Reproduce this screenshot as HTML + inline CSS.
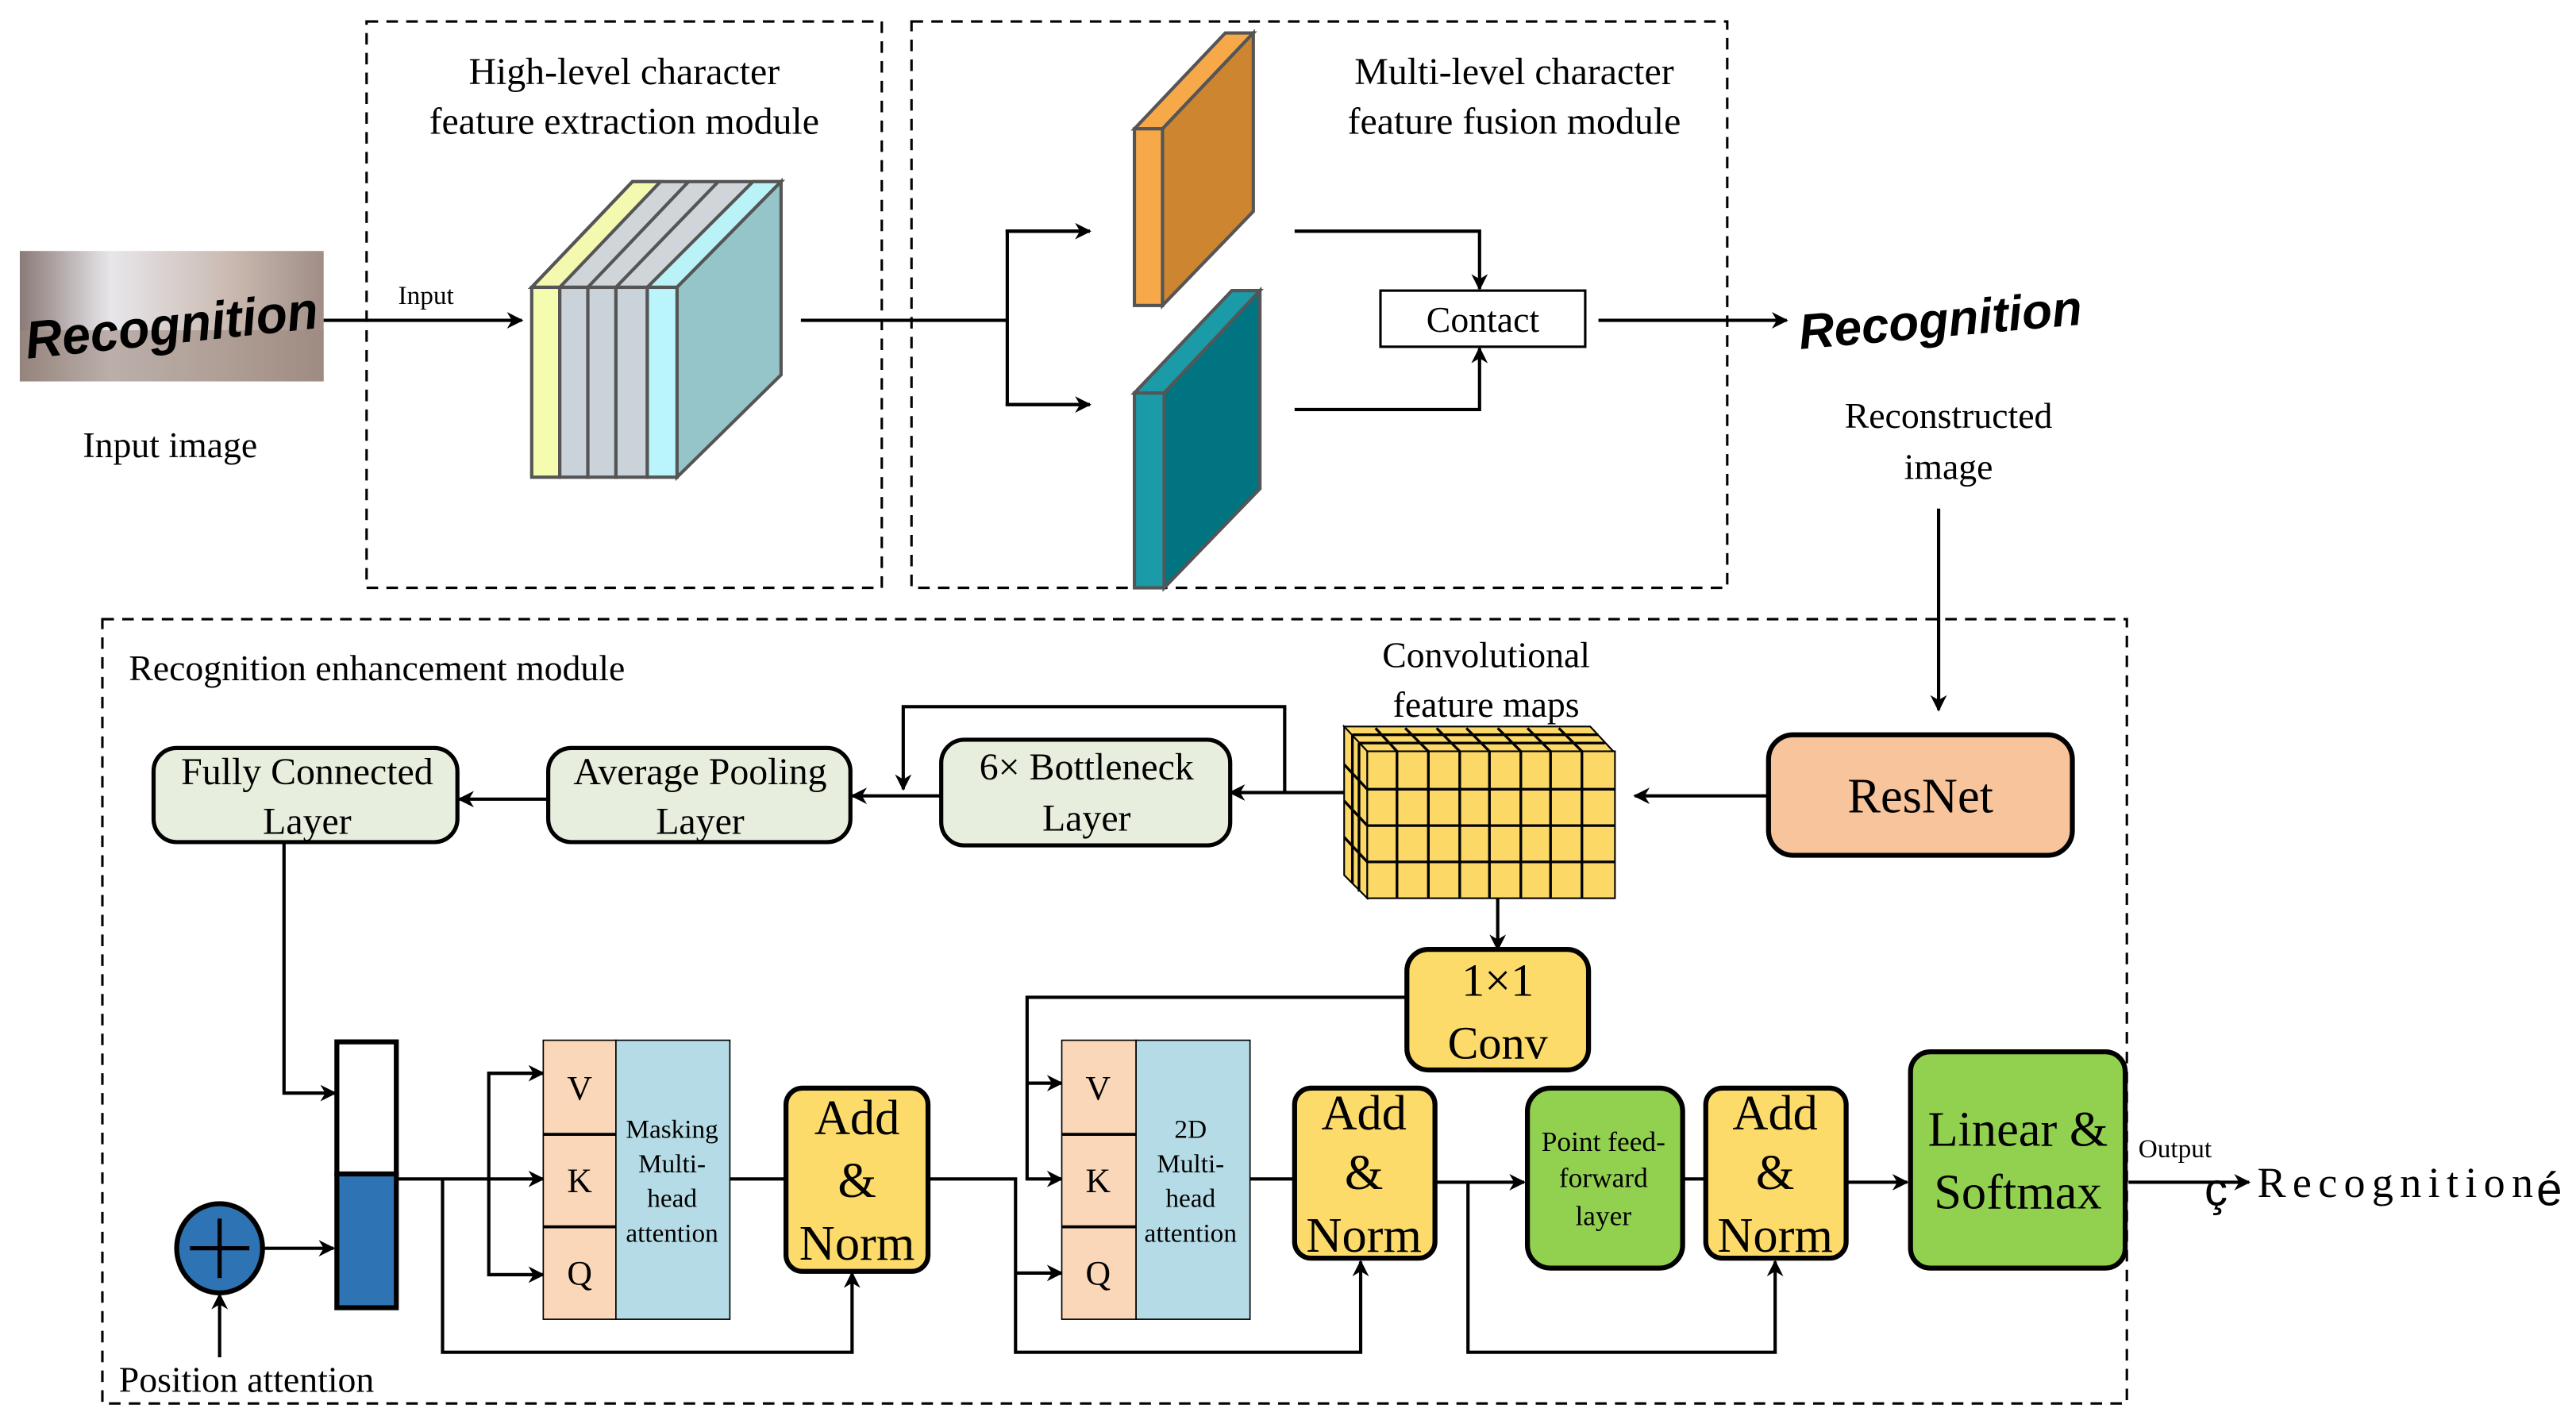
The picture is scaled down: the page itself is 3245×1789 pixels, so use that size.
<!DOCTYPE html>
<html><head><meta charset="utf-8"><style>
html,body{margin:0;padding:0;background:#fff;}
svg{display:block;}
text{font-family:"Liberation Serif",serif;fill:#000;}
</style></head><body>
<svg width="3245" height="1789" viewBox="0 0 1560 860" preserveAspectRatio="none" xmlns="http://www.w3.org/2000/svg">
<defs>
<marker id="a" markerWidth="10" markerHeight="10" refX="9" refY="5" orient="auto" markerUnits="userSpaceOnUse"><path d="M0,0 L10,5 L0,10 L3,5 Z" fill="#000"/></marker>
<linearGradient id="img" x1="0" y1="0" x2="1" y2="0"><stop offset="0" stop-color="#8a7a78"/><stop offset="0.3" stop-color="#e8e6ea"/><stop offset="0.7" stop-color="#c9b9b0"/><stop offset="1" stop-color="#a08e86"/></linearGradient>
</defs>
<g fill="none" stroke="#000" stroke-width="1.5" stroke-dasharray="7,5">
<rect x="222" y="13" width="312" height="343"/>
<rect x="552" y="13" width="494" height="343"/>
<rect x="62" y="375" width="1226" height="475"/>
</g>
<rect x="12" y="152" width="184" height="79" fill="url(#img)"/>
<rect x="12" y="200" width="184" height="31" fill="#9c8a80" opacity="0.6"/>
<text x="104" y="208" font-weight="bold" font-style="italic" font-size="32" text-anchor="middle" transform="rotate(-6 104 198)" style="font-family:'Liberation Sans',sans-serif" textLength="178" lengthAdjust="spacingAndGlyphs">Recognition</text>
<text x="103" y="277" font-size="22" text-anchor="middle">Input image</text>
<text x="258" y="184" font-size="16" text-anchor="middle">Input</text>
<line x1="196" y1="194" x2="316" y2="194" stroke="#000" stroke-width="2" marker-end="url(#a)"/>
<text x="378" y="51" font-size="23" text-anchor="middle">High-level character</text>
<text x="378" y="81" font-size="23" text-anchor="middle">feature extraction module</text>
<g stroke="#555" stroke-width="2">
<polygon points="322,174 383,110 473,110 410,174" fill="#cfd5d9"/>
<polygon points="322,174 339,174 400,110 383,110" fill="#f5f9b0"/>
<polygon points="392,174 410,174 473,110 456,110" fill="#b9f3f8"/>
<polygon points="410,174 473,110 473,227 410,289" fill="#95c5c8"/>
<rect x="322" y="174" width="17" height="115" fill="#f5fcb0"/>
<rect x="339" y="174" width="17" height="115" fill="#cbd3da"/>
<rect x="356" y="174" width="17" height="115" fill="#cbd3da"/>
<rect x="373" y="174" width="19" height="115" fill="#cbd3da"/>
<rect x="392" y="174" width="18" height="115" fill="#b9f5fb"/>
<line x1="356" y1="174" x2="417" y2="110"/><line x1="373" y1="174" x2="435" y2="110"/>
</g>
<g stroke="#000" stroke-width="2" fill="none">
<line x1="485" y1="194" x2="610" y2="194"/>
<polyline points="660,140 610,140 610,245 660,245"/>
<line x1="609" y1="140" x2="660" y2="140" marker-end="url(#a)"/>
<line x1="609" y1="245" x2="660" y2="245" marker-end="url(#a)"/>
<polyline points="784,140 896,140 896,175" marker-end="url(#a)"/>
<polyline points="784,248 896,248 896,211" marker-end="url(#a)"/>
<line x1="968" y1="194" x2="1082" y2="194" marker-end="url(#a)"/>
<line x1="1174" y1="308" x2="1174" y2="430" marker-end="url(#a)"/>
</g>
<text x="917" y="51" font-size="23" text-anchor="middle">Multi-level character</text>
<text x="917" y="81" font-size="23" text-anchor="middle">feature fusion module</text>
<g stroke="#555" stroke-width="2">
<polygon points="687,78 742,20 759,20 704,78" fill="#f7a94a"/>
<polygon points="704,78 759,20 759,128 704,185" fill="#cd8530"/>
<rect x="687" y="78" width="17" height="107" fill="#f7a94a"/>
<polygon points="687,238 746,176 763,176 705,238" fill="#1b9aa8"/>
<polygon points="705,238 763,176 763,296 705,356" fill="#007481"/>
<rect x="687" y="238" width="18" height="118" fill="#1b9aa8"/>
</g>
<rect x="836" y="176" width="124" height="34" fill="#fff" stroke="#000" stroke-width="1.5"/>
<text x="898" y="201" font-size="22" text-anchor="middle">Contact</text>
<text x="1175" y="204" font-weight="bold" font-style="italic" font-size="30" text-anchor="middle" transform="rotate(-5 1175 194)" style="font-family:'Liberation Sans',sans-serif" textLength="172" lengthAdjust="spacingAndGlyphs">Recognition</text>
<text x="1180" y="259" font-size="22" text-anchor="middle">Reconstructed</text>
<text x="1180" y="290" font-size="22" text-anchor="middle">image</text>
<text x="78" y="412" font-size="22">Recognition enhancement module</text>
<rect x="1071" y="445" width="184" height="73" rx="15" fill="#f8c49c" stroke="#000" stroke-width="3"/>
<text x="1163" y="492" font-size="30" text-anchor="middle">ResNet</text>
<text x="900" y="404" font-size="22" text-anchor="middle">Convolutional</text>
<text x="900" y="434" font-size="22" text-anchor="middle">feature maps</text>
<!-- cube -->
<g stroke="#000" stroke-width="1">
<polygon points="814,440 963,440 977,455 828,455" fill="#fcd867"/>
<polygon points="814,440 828,455 828,544 814,530" fill="#fcd867"/>
<rect x="828" y="455" width="150" height="89" fill="#fcd867"/>
</g>
<g stroke="#000" stroke-width="1.6" fill="none">
<line x1="828" y1="478" x2="978" y2="478"/><line x1="828" y1="500" x2="978" y2="500"/><line x1="828" y1="522" x2="978" y2="522"/>
<line x1="865" y1="455" x2="865" y2="544"/><line x1="902" y1="455" x2="902" y2="544"/><line x1="939" y1="455" x2="939" y2="544"/>
<line x1="884" y1="455" x2="884" y2="544"/><line x1="846" y1="455" x2="846" y2="544"/><line x1="921" y1="455" x2="921" y2="544"/><line x1="958" y1="455" x2="958" y2="544"/>
<line x1="819" y1="445" x2="968" y2="445"/><line x1="823" y1="450" x2="972" y2="450"/>
<line x1="819" y1="445" x2="819" y2="535"/><line x1="823" y1="450" x2="823" y2="540"/>
<line x1="846" y1="455" x2="833" y2="441"/><line x1="865" y1="455" x2="851" y2="441"/><line x1="884" y1="455" x2="870" y2="441"/><line x1="902" y1="455" x2="888" y2="441"/><line x1="921" y1="455" x2="907" y2="441"/><line x1="939" y1="455" x2="925" y2="441"/><line x1="958" y1="455" x2="944" y2="441"/>
<line x1="828" y1="478" x2="814" y2="463"/><line x1="828" y1="500" x2="814" y2="485"/><line x1="828" y1="522" x2="814" y2="507"/>
</g>
<g stroke="#000" stroke-width="2" fill="none">
<line x1="1071" y1="482" x2="990" y2="482" marker-end="url(#a)"/>
<line x1="814" y1="480" x2="745" y2="480" marker-end="url(#a)"/>
<polyline points="778,480 778,428 547,428 547,478" marker-end="url(#a)"/>
<line x1="570" y1="482" x2="516" y2="482" marker-end="url(#a)"/>
<line x1="332" y1="484" x2="278" y2="484" marker-end="url(#a)"/>
<polyline points="172,510 172,662 203,662" marker-end="url(#a)"/>
<line x1="907" y1="544" x2="907" y2="575" marker-end="url(#a)"/>
</g>
<g stroke="#000" stroke-width="2.5">
<rect x="570" y="448" width="175" height="64" rx="14" fill="#e8eedd"/>
<rect x="332" y="453" width="183" height="57" rx="14" fill="#e8eedd"/>
<rect x="93" y="453" width="184" height="57" rx="14" fill="#e8eedd"/>
</g>
<g font-size="23" text-anchor="middle">
<text x="658" y="472">6× Bottleneck</text><text x="658" y="503">Layer</text>
<text x="424" y="475">Average Pooling</text><text x="424" y="505">Layer</text>
<text x="186" y="475">Fully Connected</text><text x="186" y="505">Layer</text>
</g>
<rect x="852" y="575" width="110" height="73" rx="13" fill="#fddb6a" stroke="#000" stroke-width="3"/>
<text x="907" y="603" font-size="28" text-anchor="middle">1×1</text>
<text x="907" y="641" font-size="28" text-anchor="middle">Conv</text>
<rect x="204" y="631" width="36" height="80" fill="#fff" stroke="#000" stroke-width="3"/>
<rect x="204" y="711" width="36" height="81" fill="#2e74b5" stroke="#000" stroke-width="3"/>
<ellipse cx="133" cy="756" rx="26" ry="27" fill="#2e74b5" stroke="#000" stroke-width="3"/>
<g stroke="#000" stroke-width="2.5"><line x1="115" y1="756" x2="151" y2="756"/><line x1="133" y1="738" x2="133" y2="774"/></g>
<g stroke="#000" stroke-width="2" fill="none">
<line x1="159" y1="756" x2="202" y2="756" marker-end="url(#a)"/>
<line x1="133" y1="822" x2="133" y2="784" marker-end="url(#a)"/>
<line x1="240" y1="714" x2="329" y2="714" marker-end="url(#a)"/>
<polyline points="329,650 296,650 296,772 329,772"/>
<line x1="296" y1="650" x2="329" y2="650" marker-end="url(#a)"/>
<line x1="296" y1="772" x2="329" y2="772" marker-end="url(#a)"/>
<polyline points="268,714 268,819 516,819 516,771" marker-end="url(#a)"/>
<line x1="442" y1="714" x2="476" y2="714"/>
<polyline points="562,714 615,714 615,819 824,819 824,764" marker-end="url(#a)"/>
<line x1="615" y1="771" x2="643" y2="771" marker-end="url(#a)"/>
<polyline points="852,604 622,604 622,714 643,714" marker-end="url(#a)"/>
<line x1="622" y1="656" x2="643" y2="656" marker-end="url(#a)"/>
<line x1="757" y1="714" x2="784" y2="714"/>
<line x1="869" y1="716" x2="923" y2="716" marker-end="url(#a)"/>
<polyline points="889,716 889,819 1075,819 1075,764" marker-end="url(#a)"/>
<line x1="1019" y1="714" x2="1033" y2="714"/>
<line x1="1118" y1="716" x2="1155" y2="716" marker-end="url(#a)"/>
<line x1="1289" y1="716" x2="1362" y2="716" marker-end="url(#a)"/>
</g>
<text x="72" y="843" font-size="22">Position attention</text>
<g stroke="#000" stroke-width="0.8">
<rect x="329" y="630" width="44" height="169" fill="#fad7b9"/>
<rect x="373" y="630" width="69" height="169" fill="#b5dce6"/>
<rect x="643" y="630" width="45" height="169" fill="#fad7b9"/>
<rect x="688" y="630" width="69" height="169" fill="#b5dce6"/>
</g>
<g stroke="#000" stroke-width="1.8"><line x1="329" y1="687" x2="373" y2="687"/><line x1="329" y1="743" x2="373" y2="743"/>
<line x1="643" y1="687" x2="688" y2="687"/><line x1="643" y1="743" x2="688" y2="743"/></g>
<g font-size="21" text-anchor="middle">
<text x="351" y="666">V</text><text x="351" y="722">K</text><text x="351" y="778">Q</text>
<text x="665" y="666">V</text><text x="665" y="722">K</text><text x="665" y="778">Q</text>
</g>
<g font-size="16" text-anchor="middle">
<text x="407" y="689">Masking</text><text x="407" y="710">Multi-</text><text x="407" y="731">head</text><text x="407" y="752">attention</text>
<text x="721" y="689">2D</text><text x="721" y="710">Multi-</text><text x="721" y="731">head</text><text x="721" y="752">attention</text>
</g>
<g stroke="#000" stroke-width="3">
<rect x="476" y="659" width="86" height="111" rx="10" fill="#fddb6a"/>
<rect x="784" y="659" width="85" height="103" rx="10" fill="#fddb6a"/>
<rect x="1033" y="659" width="85" height="103" rx="10" fill="#fddb6a"/>
<rect x="925" y="659" width="94" height="109" rx="14" fill="#92d050"/>
<rect x="1157" y="637" width="130" height="131" rx="12" fill="#92d050"/>
</g>
<g font-size="30" text-anchor="middle">
<text x="519" y="687">Add</text><text x="519" y="725">&amp;</text><text x="519" y="763">Norm</text>
<text x="826" y="684">Add</text><text x="826" y="720">&amp;</text><text x="826" y="758">Norm</text>
<text x="1075" y="684">Add</text><text x="1075" y="720">&amp;</text><text x="1075" y="758">Norm</text>
<text x="1222" y="694">Linear &amp;</text><text x="1222" y="732">Softmax</text>
</g>
<g font-size="17" text-anchor="middle">
<text x="971" y="697">Point feed-</text><text x="971" y="719">forward</text><text x="971" y="742">layer</text>
</g>
<text x="1295" y="701" font-size="16">Output</text>
<text x="1335" y="730" font-size="28" style="font-family:'Liberation Sans',sans-serif">ç</text>
<text x="1367" y="725" font-size="26" letter-spacing="4">Recognition</text>
<text x="1536" y="730" font-size="28" style="font-family:'Liberation Sans',sans-serif">é</text>
</svg>
</body></html>
